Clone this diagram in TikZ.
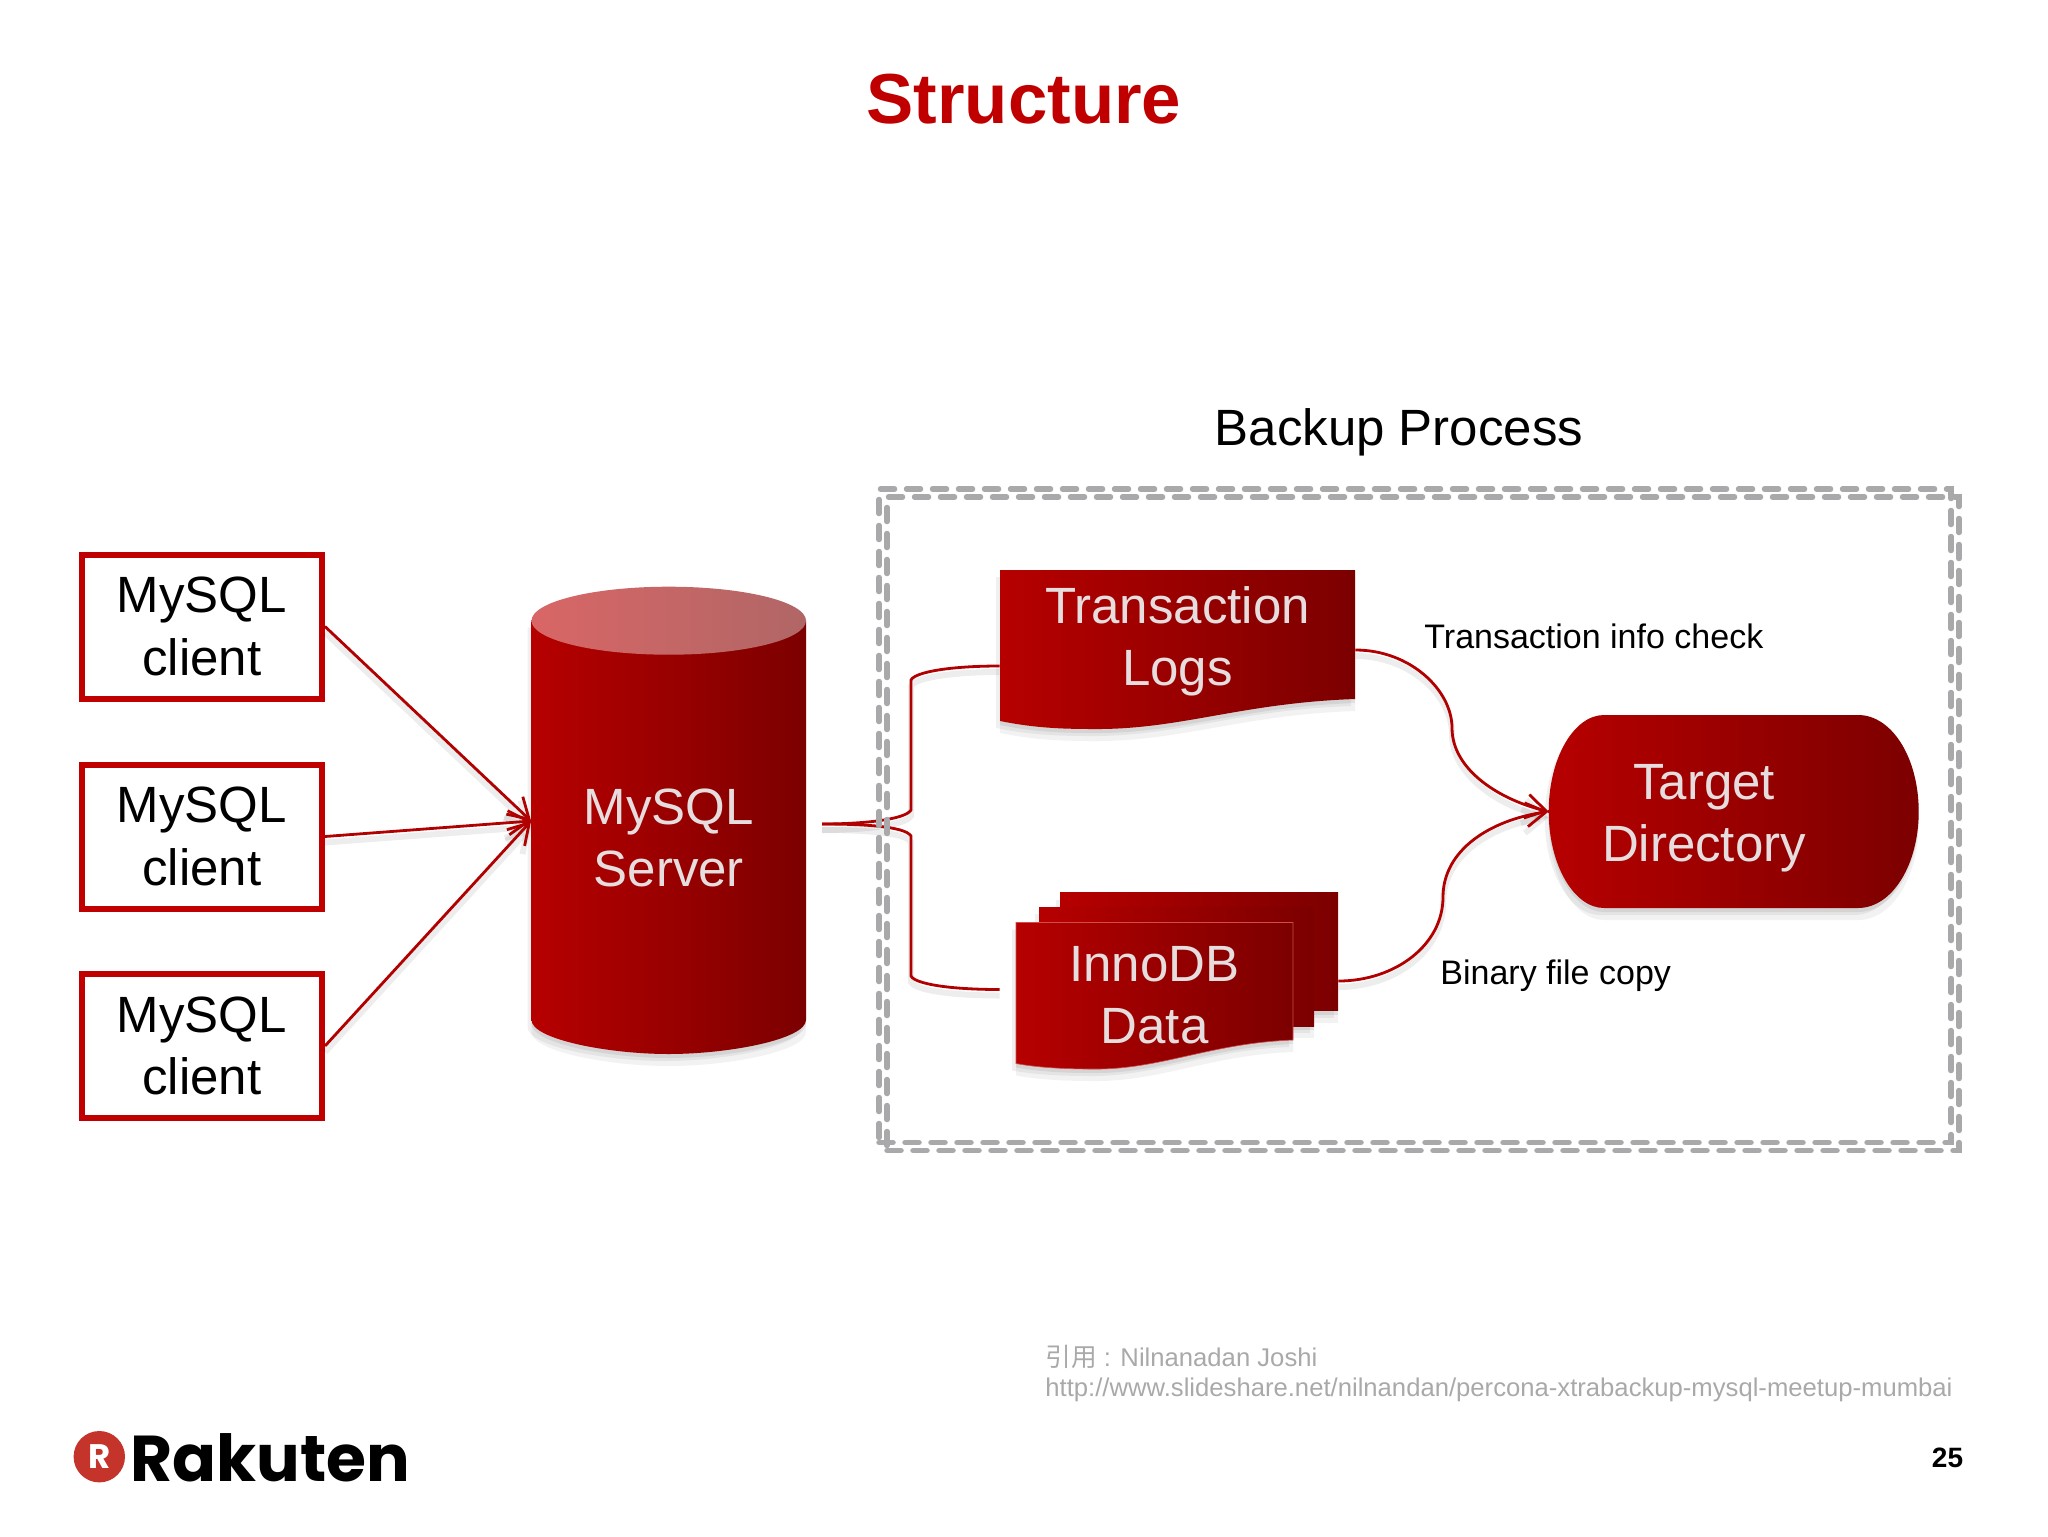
\documentclass[tikz,border=0pt]{standalone}
\usepackage{fontspec}
\usepackage{color}
\setmainfont{Liberation Sans}
\newfontfamily\cjkfont{Noto Sans CJK SC}
\newfontfamily\logofont{Poppins}
\usetikzlibrary{arrows.meta,shadows}
\definecolor{rakred}{HTML}{C00000}
\definecolor{linkred}{HTML}{B00000}
\definecolor{deepred}{HTML}{7C0000}
\definecolor{paletext}{HTML}{E6DEDE}
\definecolor{dashgray}{HTML}{A9A9AB}
\definecolor{logored}{HTML}{C5342A}
\tikzset{
    softshadow/.style={
        general shadow={fill=black,opacity=.07,shadow xshift=0pt,shadow yshift=-2pt},
        general shadow={fill=black,opacity=.06,shadow xshift=-2pt,shadow yshift=-3.5pt},
        general shadow={fill=black,opacity=.05,shadow xshift=0pt,shadow yshift=-6pt}},
    redfill/.style={left color=rakred!95!black,right color=deepred},
    clientbox/.style={draw=rakred,line width=3pt,fill=white,minimum width=120.25pt,minimum height=72pt,align=center,inner sep=0pt,font=\fontsize{25.5}{31.3}\selectfont},
    paletitle/.style={text=paletext,align=center,inner sep=0pt,font=\fontsize{25.5}{31}\selectfont},
    dashbox/.style={draw=dashgray,line width=2.75pt,line cap=round,dash pattern=on 7pt off 6pt,minimum width=536pt,minimum height=326.75pt,inner sep=0pt},
    link/.style={draw=linkred,line width=1.4pt,general shadow={draw=black,fill=none,opacity=.07,line width=3pt,shadow xshift=0pt,shadow yshift=-3pt}},
    linklabel/.style={inner sep=0pt,font=\fontsize{17}{20}\selectfont},
    >={Straight Barb[length=10pt,width=12pt]}
}
\begin{document}
\begin{tikzpicture}[x=0.5pt,y=-0.5pt]
    \useasboundingbox (0,0) rectangle (2048,1536);
    \node (title) at (1024,99) [inner sep=0pt,text=rakred,font=\fontsize{35.4}{40}\selectfont\bfseries] {Structure};
    \node (backuptitle) at (1399,432) [inner sep=0pt,font=\fontsize{25.5}{30}\selectfont] {Backup Process};

    \node (client1) at (201.75,626.5) [clientbox] {MySQL\\client};
    \node (client2) at (201.75,836.5) [clientbox] {MySQL\\client};
    \node (client3) at (201.75,1046) [clientbox] {MySQL\\client};

    \path[redfill,softshadow] (531.5,620.7) -- (531.5,1020) .. controls (531.5,1039) and (607,1054) .. (668.75,1054) .. controls (730,1054) and (806,1039) .. (806,1020) -- (806,620.7) -- cycle;
    \path[left color=rakred!60!white,right color=deepred!60!white] (668.75,620.7) ellipse [x radius=137.25,y radius=34];
    \node (server) at (668.75,838) [paletitle,minimum width=137.25pt,minimum height=217pt] {MySQL\\Server};

    \path[redfill,softshadow] (1000,570) -- (1355,570) -- (1355,699) .. controls (1240,703) and (1180,730) .. (1092,729) .. controls (1055,729) and (1030,727) .. (1000,721) -- cycle;
    \node (logs) at (1177.5,641) [paletitle,minimum width=177.5pt,minimum height=65pt] {Transaction\\Logs};

    \path[redfill,softshadow] (1060,892.6) -- (1338,892.6) -- (1338,1010.6) -- (1060,1010.6) -- cycle;
    \path[redfill,softshadow] (1039,907) -- (1314,907) -- (1314,1026) -- (1039,1026) -- cycle;
    \path[redfill,softshadow,draw=rakred!70!white,line width=.3pt] (1016,922.5) -- (1293,922.5) -- (1293,1040) .. controls (1210,1043) and (1160,1070) .. (1092,1069) .. controls (1060,1069) and (1035,1067) .. (1016,1063.5) -- cycle;
    \node (innoback) at (1199,951.6) [minimum width=139pt,minimum height=59pt,inner sep=0pt] {};
    \node (inno) at (1154.5,995) [paletitle,minimum width=138.5pt,minimum height=59pt] {InnoDB\\Data};

    \path[redfill,softshadow] (1604,715) -- (1858,715) .. controls (1892,715) and (1918.7,758) .. (1918.7,811.5) .. controls (1918.7,865) and (1892,908) .. (1858,908) -- (1604,908) .. controls (1574,908) and (1548.7,865) .. (1548.7,811.5) .. controls (1548.7,758) and (1574,715) .. (1604,715) -- cycle;
    \node (target) at (1704,818) [paletitle] {Target\\Directory};
    \coordinate (targetin) at (1548.7,811.5);
    \coordinate (serverout) at (822,824);

    \draw[link,->] (client1.east) -- ([yshift=8.5pt]server.west);
    \draw[link,->] (client2.east) -- ([yshift=8.5pt]server.west);
    \draw[link,->] (client3.east) -- ([yshift=8.5pt]server.west);

    \draw[link] (serverout) .. controls (860,824) and (905,820) .. (911,810) -- (911,680) .. controls (915,672) and (950,666) .. ([yshift=-12.5pt]logs.west);
    \draw[link] (serverout) .. controls (860,824) and (905,826) .. (911,836) -- (911,976) .. controls (915,984) and (950,989.5) .. ([xshift=-8pt,yshift=2.75pt]inno.west);
    \draw[link,->] ([yshift=-4.5pt]logs.east) .. controls (1410,650) and (1452,690) .. (1452,728) .. controls (1452,770) and (1500,800) .. (targetin);
    \draw[link,->] ([yshift=-14.7pt]innoback.east) .. controls (1395,981) and (1443,945) .. (1443,897) .. controls (1443,850) and (1490,820) .. (targetin);

    \node (backupouter) at (1415,815.75) [dashbox] {};
    \node (backupinner) at (1423,823.75) [dashbox] {};

    \node (checklabel) at (1424,636) [linklabel,anchor=west] {Transaction info check};
    \node (copylabel) at (1440,975.5) [linklabel,anchor=west] {Binary file copy};

    \node (quote) at (1045,1357) [anchor=west,inner sep=0pt,text=dashgray,font=\fontsize{12.83}{16}\selectfont] {{\cjkfont 引用} : Nilnanadan Joshi};
    \node (source) at (1045,1390) [anchor=west,inner sep=0pt,text=dashgray,font=\fontsize{12.83}{16}\selectfont] {http://www.slideshare.net/nilnandan/percona-xtrabackup-mysql-meetup-mumbai};

    \node (logomark) at (99.3,1456.7) [circle,fill=logored,minimum size=25.7pt,inner sep=0pt,text=white,font=\logofont\fontsize{17}{17}\selectfont\bfseries] {R};
    \node (logotext) at (130,1481) [anchor=base west,inner sep=0pt,font=\logofont\fontsize{32.4}{36}\selectfont\bfseries] {Rakuten};
    \node (pagenum) at (1947.5,1458) [inner sep=0pt,font=\fontsize{14}{16}\selectfont\bfseries] {25};
\end{tikzpicture}
\end{document}
